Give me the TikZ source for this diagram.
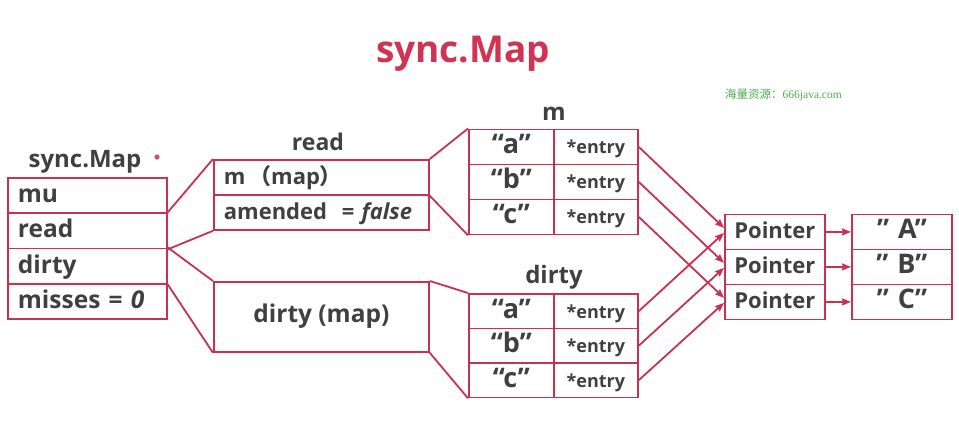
\documentclass[tikz,border=0pt]{standalone}
\usepackage{fontspec}
\setmainfont{Open Sans}
\newfontfamily\cjk{Noto Sans CJK SC}
\newfontfamily\wmserif{Liberation Serif}
\usetikzlibrary{arrows.meta,calc}
\definecolor{bred}{RGB}{200,50,80}
\definecolor{tred}{RGB}{208,52,82}
\definecolor{tgray}{RGB}{64,64,64}
\definecolor{wgreen}{RGB}{80,170,80}
\begin{document}
\begin{tikzpicture}[x=1pt,y=-1pt,
  cell/.style={draw=bred,line width=1.8pt,anchor=north west,inner sep=0pt,
    text height=24pt,text depth=10pt,text=tgray,
    font=\bfseries\fontsize{22}{26}\selectfont},
  cellL/.style={cell,align=left,inner xsep=10pt},
  big/.style={font=\bfseries\fontsize{24.5}{28}\selectfont},
  key/.style={font=\bfseries\fontsize{27}{30}\selectfont},
  small/.style={font=\bfseries\fontsize{18}{21}\selectfont},
  lbl/.style={anchor=base,inner sep=0pt,text=tgray,font=\bfseries\fontsize{22}{26}\selectfont},
  conn/.style={draw=bred,line width=1.8pt},
  arr/.style={conn,-{Stealth[length=9pt,width=7pt,inset=1pt]}}
]
\useasboundingbox (0,0) rectangle (959,440);

% title and watermark
\node[anchor=base,inner sep=0pt,text=tred,font=\bfseries\fontsize{37}{42}\selectfont] (title) at (463,62) {sync.Map};
\node[anchor=base west,inner sep=0pt,text=wgreen,font=\fontsize{11.5}{13}\selectfont] (wm) at (725,98) {\cjk 海量资源：\wmserif 666java.com};

% sync.Map struct
\node[lbl,font=\bfseries\fontsize{24}{28}\selectfont] (lsync) at (85,167) {sync.Map};
\fill[bred!85] (157,157) circle (2.6pt);
\node[cellL,big,text width=139pt,minimum height=35.25pt] (s1) at (7,177) {mu};
\node[cellL,big,text width=139pt,minimum height=35.25pt] (s2) at (7,212.25) {read};
\node[cellL,big,text width=139pt,minimum height=35.25pt] (s3) at (7,247.5) {dirty};
\node[cellL,big,text width=139pt,minimum height=35.25pt] (s4) at (7,282.75) {misses = \textit{0}};

% read struct
\node[lbl,font=\bfseries\fontsize{23}{27}\selectfont] (lread) at (318,150) {read};
\node[cellL,text width=195pt,minimum height=35pt] (r1) at (213,159) {m\,{\cjk （}map{\cjk ）}};
\node[cellL,text width=195pt,minimum height=35pt] (r2) at (213,194) {amended\ \ = \textit{false}};

% dirty map
\node[cell,big,minimum width=215pt,minimum height=70pt,text height=17pt,text depth=6pt] (dm) at (213,281) {dirty (map)};

% m table
\node[lbl,font=\bfseries\fontsize{24}{28}\selectfont] (lm) at (554,120) {m};
\node[cell,key,minimum width=85pt,minimum height=35pt] (mk1) at (468,128.5) {“a”};
\node[cell,key,minimum width=85pt,minimum height=35pt] (mk2) at (468,163.5) {“b”};
\node[cell,key,minimum width=85pt,minimum height=35pt] (mk3) at (468,198.5) {“c”};
\node[cell,small,minimum width=84pt,minimum height=35pt] (me1) at (553,128.5) {*entry};
\node[cell,small,minimum width=84pt,minimum height=35pt] (me2) at (553,163.5) {*entry};
\node[cell,small,minimum width=84pt,minimum height=35pt] (me3) at (553,198.5) {*entry};

% dirty table
\node[lbl,font=\bfseries\fontsize{24}{28}\selectfont] (ld) at (554,283) {dirty};
\node[cell,key,minimum width=85pt,minimum height=34.5pt] (dk1) at (468,293) {“a”};
\node[cell,key,minimum width=85pt,minimum height=34.5pt] (dk2) at (468,327.5) {“b”};
\node[cell,key,minimum width=85pt,minimum height=34.5pt] (dk3) at (468,362) {“c”};
\node[cell,small,minimum width=84pt,minimum height=34.5pt] (de1) at (553,293) {*entry};
\node[cell,small,minimum width=84pt,minimum height=34.5pt] (de2) at (553,327.5) {*entry};
\node[cell,small,minimum width=84pt,minimum height=34.5pt] (de3) at (553,362) {*entry};

% pointers and values
\node[cell,minimum width=100pt,minimum height=35pt] (p1) at (724,213.5) {Pointer};
\node[cell,minimum width=100pt,minimum height=35pt] (p2) at (724,248.5) {Pointer};
\node[cell,minimum width=100pt,minimum height=35pt] (p3) at (724,283.5) {Pointer};
\node[cell,key,minimum width=100pt,minimum height=35pt] (v1) at (851,213.5) {”\,\,A”\hspace{8pt}};
\node[cell,key,minimum width=100pt,minimum height=35pt] (v2) at (851,248.5) {”\,\,B”\hspace{8pt}};
\node[cell,key,minimum width=100pt,minimum height=35pt] (v3) at (851,283.5) {”\,\,C”\hspace{8pt}};

% expansion lines
\draw[conn] (s2.north east) -- (r1.north west);
\draw[conn] (s2.south east) -- (r2.south west);
\draw[conn] (s3.north east) -- (dm.north west);
\draw[conn] (s3.south east) -- (dm.south west);
\draw[conn] (r1.north east) -- (mk1.north west);
\draw[conn] (r1.south east) -- (mk3.south west);
\draw[conn] (dm.north east) -- (dk1.north west);
\draw[conn] (dm.south east) -- (dk3.south west);

% entry arrows
\draw[arr] (me1.east) -- ([yshift=4pt]p1.west);
\draw[arr] (me2.east) -- ([yshift=4pt]p2.west);
\draw[arr] (me3.east) -- ([yshift=4pt]p3.west);
\draw[arr] (de1.east) -- ([yshift=-1pt]p1.west);
\draw[arr] (de2.east) -- ([yshift=-1pt]p2.west);
\draw[arr] (de3.east) -- ([yshift=-1pt]p3.west);

% pointer to value
\draw[arr] (p1.east) -- (v1.west);
\draw[arr] (p2.east) -- (v2.west);
\draw[arr] (p3.east) -- (v3.west);
\end{tikzpicture}
\end{document}
